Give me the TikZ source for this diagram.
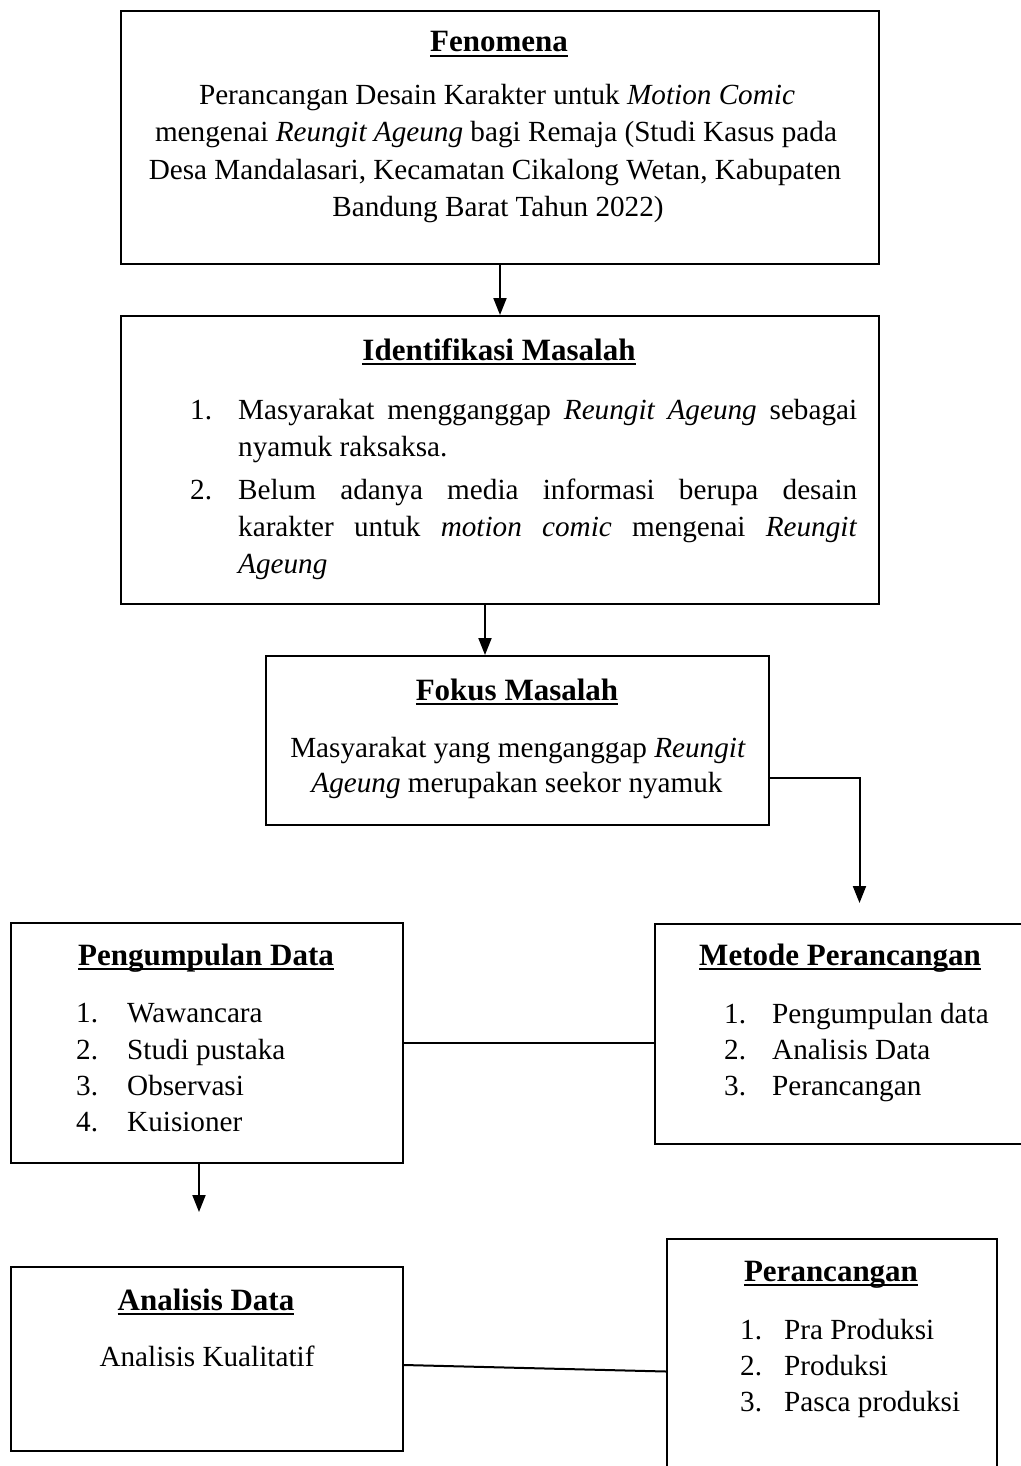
\documentclass[tikz,border=0pt]{standalone}
\usepackage{fontspec}
\setmainfont{Liberation Serif}
\usetikzlibrary{arrows.meta}
\newcommand{\ulbar}[1]{\setbox0\hbox{#1}\rlap{\rule[-5pt]{\wd0}{2.4pt}}\box0}
\begin{document}
\begin{tikzpicture}[x=1pt,y=-1pt,
  box/.style={draw=black,line width=2pt,inner sep=0pt,anchor=north west},
  ttl/.style={anchor=base,inner sep=0pt,font=\fontsize{31}{37}\selectfont\bfseries},
  txt/.style={anchor=base,inner sep=0pt,font=\fontsize{29.2}{37}\selectfont},
  txl/.style={anchor=base west,inner sep=0pt,font=\fontsize{29.2}{37}\selectfont},
  arr/.style={line width=2pt,-{Triangle[length=17pt,width=13pt]}},
  ln/.style={line width=2pt}]
\useasboundingbox[fill=white] (0,0) rectangle (1020,1466);

% boxes
\node[box,minimum width=758pt,minimum height=253pt] (fen) at (120,10) {};
\node[box,minimum width=758pt,minimum height=288pt] (id) at (120,315) {};
\node[box,minimum width=503pt,minimum height=169pt] (fok) at (265,655) {};
\node[box,minimum width=392pt,minimum height=240pt] (pen) at (10,922) {};
\node[box,minimum width=372pt,minimum height=220pt] (met) at (654,923) {};
\node[box,minimum width=392pt,minimum height=184pt] (ana) at (10,1266) {};
\node[box,minimum width=330pt,minimum height=235pt] (per) at (666,1238) {};

% Fenomena
\node[ttl] (fenT) at (499,52) {\ulbar{Fenomena}};
\node[txt] (fen1) at (497,105) {Perancangan Desain Karakter untuk \textit{Motion Comic}};
\node[txt] (fen2) at (496,142) {mengenai \textit{Reungit Ageung} bagi Remaja (Studi Kasus pada};
\node[txt] (fen3) at (495,179) {Desa Mandalasari, Kecamatan Cikalong Wetan, Kabupaten};
\node[txt] (fen4) at (498,216) {Bandung Barat Tahun 2022)};

% Identifikasi
\node[ttl] (idT) at (499,360) {\ulbar{Identifikasi Masalah}};
\node[anchor=base west,inner sep=0pt,font=\fontsize{29.2}{37}\selectfont] (idL) at (190,419)
 {\parbox[t]{667pt}{\fontsize{29.2}{37}\selectfont\setlength{\parskip}{6pt}\setlength{\parindent}{0pt}%
 \hangindent=48pt\hangafter=1\makebox[48pt][l]{1.}Masyarakat mengganggap \textit{Reungit Ageung} sebagai\linebreak nyamuk raksaksa.\par
 \hangindent=48pt\hangafter=1\makebox[48pt][l]{2.}Belum adanya media informasi berupa desain\linebreak karakter untuk \textit{motion comic} mengenai \textit{Reungit}\linebreak \textit{Ageung}\par}};

% Fokus
\node[ttl] (fokT) at (517,700) {\ulbar{Fokus Masalah}};
\node[txt] (fok1) at (518,757) {Masyarakat yang menganggap \textit{Reungit}};
\node[txt] (fok2) at (517,792) {\textit{Ageung} merupakan seekor nyamuk};

% Pengumpulan Data
\node[ttl] (penT) at (206,965) {\ulbar{Pengumpulan Data}};
\node[txl] (pn1) at (76,1022) {1.};
\node[txl] (pt1) at (127,1022) {Wawancara};
\node[txl] (pn2) at (76,1059) {2.};
\node[txl] (pt2) at (127,1059) {Studi pustaka};
\node[txl] (pn3) at (76,1095) {3.};
\node[txl] (pt3) at (127,1095) {Observasi};
\node[txl] (pn4) at (76,1131) {4.};
\node[txl] (pt4) at (127,1131) {Kuisioner};

% Metode Perancangan
\node[ttl] (metT) at (840,965) {\ulbar{Metode Perancangan}};
\node[txl] (mn1) at (724,1023) {1.};
\node[txl] (mt1) at (772,1023) {Pengumpulan data};
\node[txl] (mn2) at (724,1059) {2.};
\node[txl] (mt2) at (772,1059) {Analisis Data};
\node[txl] (mn3) at (724,1095) {3.};
\node[txl] (mt3) at (772,1095) {Perancangan};

% Analisis Data
\node[ttl] (anaT) at (206,1310) {\ulbar{Analisis Data}};
\node[txt] (ana1) at (207,1366) {Analisis Kualitatif};

% Perancangan
\node[ttl] (perT) at (831,1281) {\ulbar{Perancangan}};
\node[txl] (rn1) at (740,1339) {1.};
\node[txl] (rt1) at (784,1339) {Pra Produksi};
\node[txl] (rn2) at (740,1375) {2.};
\node[txl] (rt2) at (784,1375) {Produksi};
\node[txl] (rn3) at (740,1411) {3.};
\node[txl] (rt3) at (784,1411) {Pasca produksi};

% connectors
\draw[arr] (fen.south) -- (id.north);
\draw[arr] ([xshift=-15pt]id.south) -- ([xshift=-15pt]id.south |- fok.north);
\draw[arr] ([yshift=-37pt]fok.east) -| ([xshift=18.5pt,yshift=20pt]met.north);
\draw[ln] (pen.east) -- (pen.east -| met.west);
\draw[arr] ([xshift=-8pt]pen.south) -- ([xshift=-8pt,yshift=54pt]ana.north);
\draw[ln] ([yshift=-6pt]ana.east) -- ([yshift=-15pt]per.west);
\end{tikzpicture}
\end{document}
